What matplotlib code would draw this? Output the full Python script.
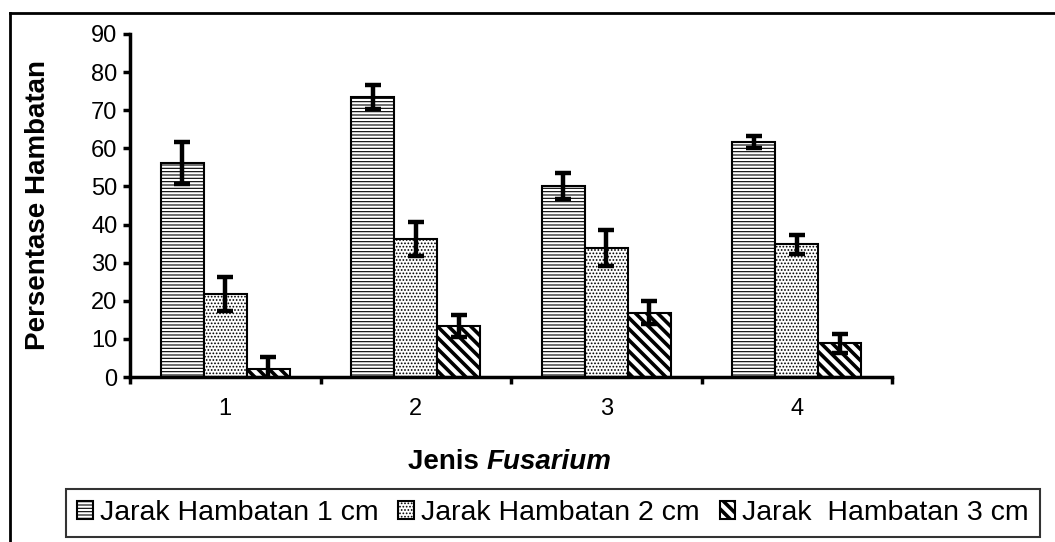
import matplotlib
matplotlib.use('Agg')
import matplotlib.pyplot as plt
from matplotlib.lines import Line2D
import numpy as np

# Data
categories = ['1', '2', '3', '4']
series_names = ['Jarak Hambatan 1 cm', 'Jarak Hambatan 2 cm', 'Jarak  Hambatan 3 cm']
jarak_1cm = [56.2, 73.4, 50.1, 61.7]
jarak_2cm = [21.7, 36.2, 33.8, 34.8]
jarak_3cm = [2.0, 13.4, 16.9, 8.8]
err_1cm = [5.5, 3.1, 3.4, 1.5]
err_2cm = [4.5, 4.5, 4.7, 2.4]
err_3cm = [3.3, 2.8, 3.0, 2.6]
yticks = [0, 10, 20, 30, 40, 50, 60, 70, 80, 90]


def main():
    plt.rcParams['font.family'] = ['Liberation Sans', 'DejaVu Sans']

    W, H = 1055, 542
    fig = plt.figure(figsize=(W / 100, H / 100), dpi=100)
    ax = fig.add_axes([130 / W, 1 - 377 / H, 762 / W, 343 / H])

    x = np.arange(1, len(categories) + 1)
    width = 0.225
    values = [jarak_1cm, jarak_2cm, jarak_3cm]
    errors = [err_1cm, err_2cm, err_3cm]
    hatches = ['-----', '.....', '\\\\\\']
    hatch_lw = [0.8, 0.8, 2.6]

    for i in range(3):
        plt.rcParams['hatch.linewidth'] = hatch_lw[i]
        ax.bar(x + (i - 1) * width, values[i], width, color='white',
               edgecolor='black', linewidth=1.5, hatch=hatches[i],
               label=series_names[i], zorder=2)
        ax.errorbar(x + (i - 1) * width, values[i], yerr=errors[i], fmt='none',
                    ecolor='black', elinewidth=3.2, capsize=5.5, capthick=3.2, zorder=3)

    # Axes styling
    ax.set_xlim(0.5, 4.5)
    ax.set_ylim(0, 90)
    ax.set_yticks(yticks)
    ax.set_xticks(x)
    ax.set_xticklabels(categories)
    ax.set_xticks(np.arange(0.5, 4.6, 1.0), minor=True)
    ax.tick_params(axis='x', which='major', length=0, pad=15, labelsize=17)
    ax.tick_params(axis='x', which='minor', length=5, width=2.5, direction='out')
    ax.tick_params(axis='y', length=5, width=2.5, direction='out', labelsize=17, pad=4)
    for pos in ['top', 'right']:
        ax.spines[pos].set_visible(False)
    for pos in ['left', 'bottom']:
        ax.spines[pos].set_linewidth(2.5)

    ax.set_ylabel('Persentase Hambatan', fontsize=20, fontweight='bold')
    ax.yaxis.set_label_coords(-0.104, 0.5)

    # x label: "Jenis" bold + "Fusarium" bold italic, centred together
    renderer = fig.canvas.get_renderer()
    t1 = fig.text(0, 1 - 462 / H, 'Jenis ', ha='left', va='center',
                  fontsize=20, fontweight='bold')
    t2 = fig.text(0, 1 - 462 / H, 'Fusarium', ha='left', va='center',
                  fontsize=20, fontweight='bold', fontstyle='italic')
    w1 = t1.get_window_extent(renderer).width
    w2 = t2.get_window_extent(renderer).width
    x0 = 510 - (w1 + w2) / 2
    t1.set_x(x0 / W)
    t2.set_x((x0 + w1) / W)

    # Legend
    leg = fig.legend(loc='center', bbox_to_anchor=(553 / W, 1 - 513 / H), ncol=3,
                     fontsize=20.5, handlelength=0.55, handleheight=0.55,
                     handletextpad=0.25, columnspacing=0.7, fancybox=False,
                     borderpad=0.38, borderaxespad=0)
    leg.get_frame().set_edgecolor('black')
    leg.get_frame().set_linewidth(1.5)
    for h, lw in zip(leg.legend_handles, hatch_lw):
        if hasattr(h, 'set_hatch_linewidth'):
            h.set_hatch_linewidth(lw)

    # Outer frame (left and top edges visible)
    fig.add_artist(Line2D([10 / W, 10 / W], [0, 1 - 13 / H], transform=fig.transFigure,
                          color='black', linewidth=2))
    fig.add_artist(Line2D([10 / W, 1], [1 - 13 / H, 1 - 13 / H], transform=fig.transFigure,
                          color='black', linewidth=2))

    plt.savefig('out.png', dpi=100)
    return 0


if __name__ == '__main__':
    exit(main())
